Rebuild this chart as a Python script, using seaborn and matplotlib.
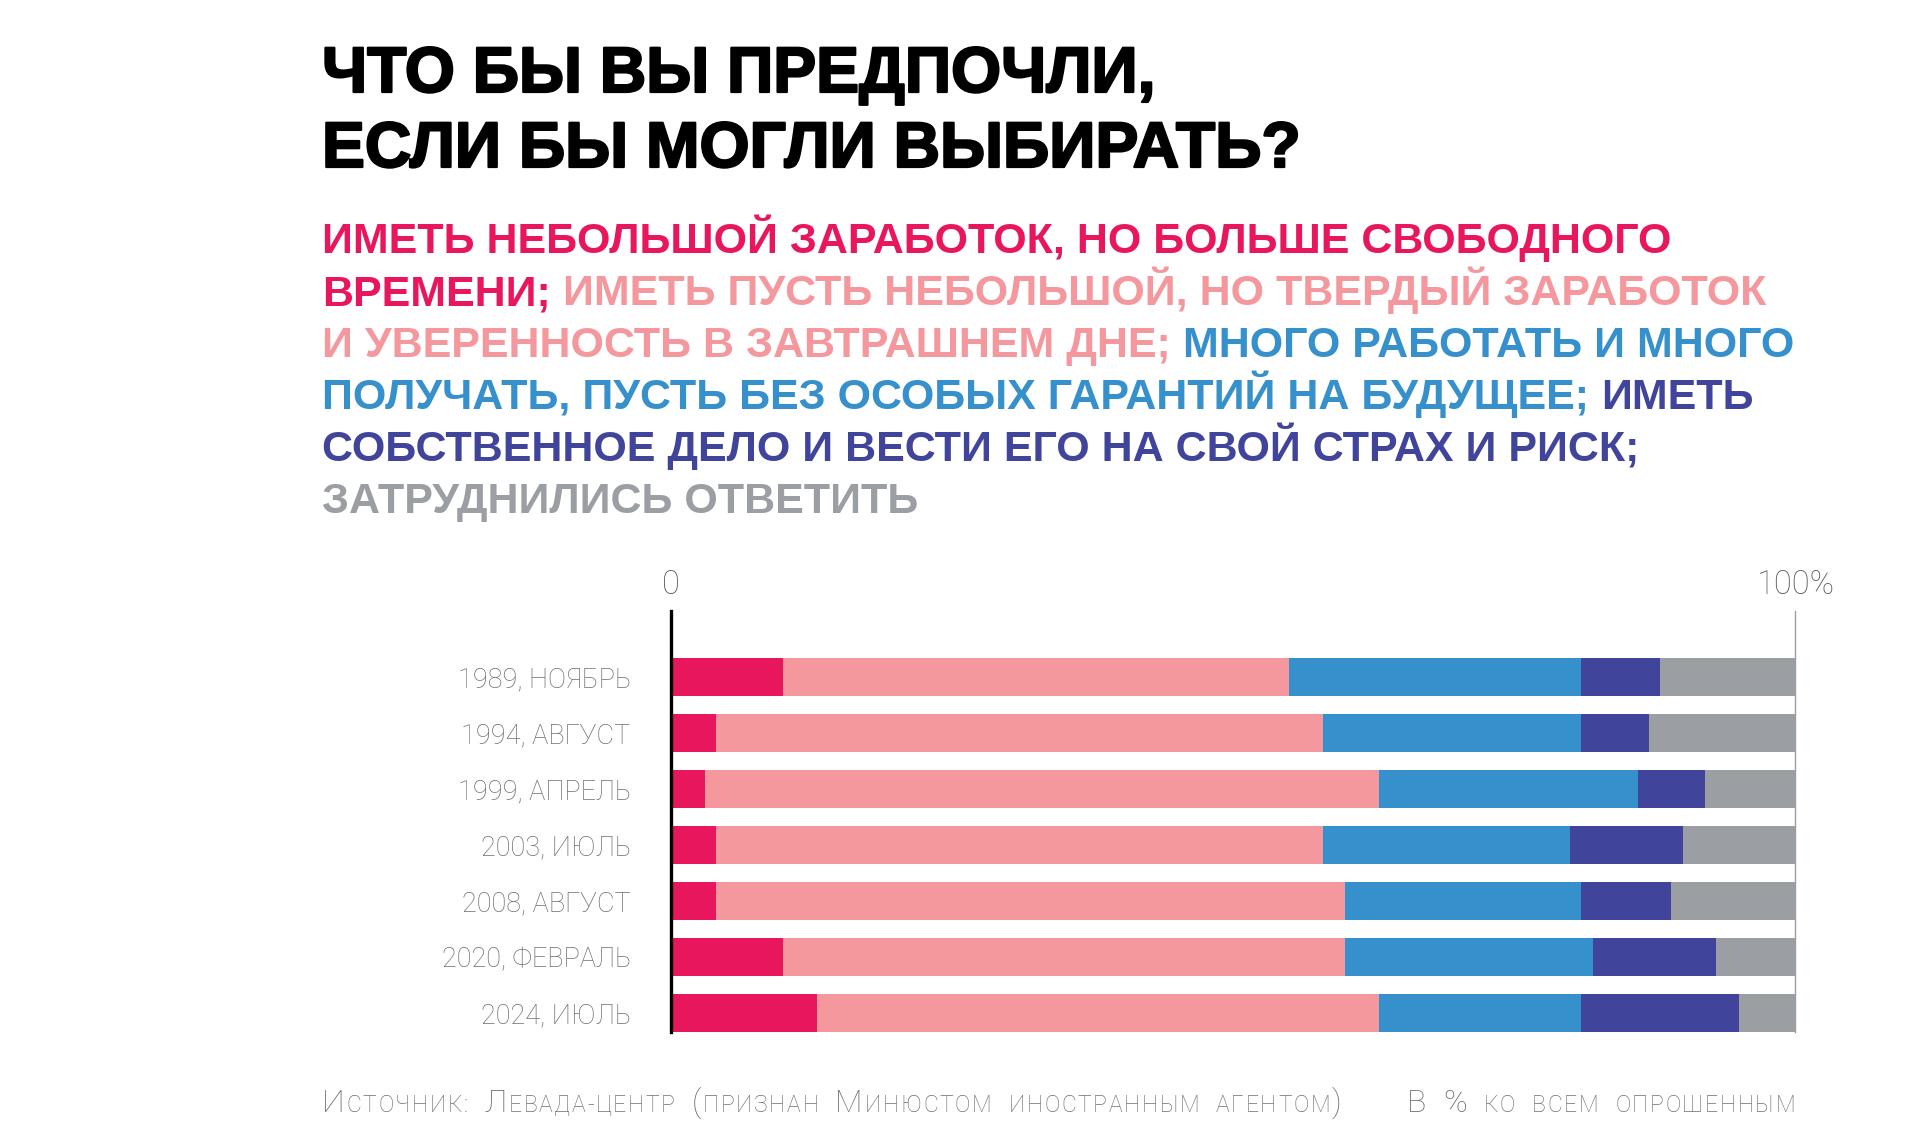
import matplotlib
matplotlib.use("Agg")
import matplotlib.pyplot as plt
import matplotlib.patheffects as pe
import seaborn as sns
import pandas as pd
import numpy as np
from matplotlib import font_manager as fm

# ---------------- data ----------------
periods = ["1989, НОЯБРЬ", "1994, АВГУСТ", "1999, АПРЕЛЬ", "2003, ИЮЛЬ",
           "2008, АВГУСТ", "2020, ФЕВРАЛЬ", "2024, ИЮЛЬ"]
categories = [
    "Иметь небольшой заработок, но больше свободного времени",
    "Иметь пусть небольшой, но твердый заработок и уверенность в завтрашнем дне",
    "Много работать и много получать, пусть без особых гарантий на будущее",
    "Иметь собственное дело и вести его на свой страх и риск",
    "Затруднились ответить",
]
free_time = [10, 4, 3, 4, 4, 10, 13]
stable = [45, 54, 60, 54, 56, 50, 50]
work_hard = [26, 23, 23, 22, 21, 22, 18]
own_business = [7, 6, 6, 10, 8, 11, 14]
hard_to_say = [12, 13, 8, 10, 11, 7, 5]

colors = ["#E8175D", "#F4989E", "#3590CB", "#41449B", "#9B9EA2"]

title_lines = ["ЧТО БЫ ВЫ ПРЕДПОЧЛИ,", "ЕСЛИ БЫ МОГЛИ ВЫБИРАТЬ?"]
# subtitle runs: (text, category index), one list per line
subtitle_lines = [
    [("ИМЕТЬ НЕБОЛЬШОЙ ЗАРАБОТОК, НО БОЛЬШЕ СВОБОДНОГО", 0)],
    [("ВРЕМЕНИ;", 0), ("ИМЕТЬ ПУСТЬ НЕБОЛЬШОЙ, НО ТВЕРДЫЙ ЗАРАБОТОК", 1)],
    [("И УВЕРЕННОСТЬ В ЗАВТРАШНЕМ ДНЕ;", 1), ("МНОГО РАБОТАТЬ И МНОГО", 2)],
    [("ПОЛУЧАТЬ, ПУСТЬ БЕЗ ОСОБЫХ ГАРАНТИЙ НА БУДУЩЕЕ;", 2), ("ИМЕТЬ", 3)],
    [("СОБСТВЕННОЕ ДЕЛО И ВЕСТИ ЕГО НА СВОЙ СТРАХ И РИСК;", 3)],
    [("ЗАТРУДНИЛИСЬ ОТВЕТИТЬ", 4)],
]
source_text = "Источник: Левада-центр (признан Минюстом иностранным агентом)"
unit_text = "В % ко всем опрошенным"
x_ticks = ["0", "100%"]

# ---------------- setup ----------------
sns.set_theme(style="white")
names = {f.name for f in fm.fontManager.ttflist}
light_family = "Roboto" if "Roboto" in names else "DejaVu Sans"
plt.rcParams["font.family"] = ["Liberation Sans", "DejaVu Sans"]

W, H = 1920, 1148
fig = plt.figure(figsize=(W / 100, H / 100), dpi=100)
fig.patch.set_facecolor("white")

def fx(px):
    return px / W

def fy(py):
    return 1 - py / H

# axes position in pixels
x0_px, x1_px = 671, 1795
top_px, bot_px = 611, 1032.3
ax = fig.add_axes([fx(x0_px), fy(bot_px), fx(x1_px - x0_px), (bot_px - top_px) / H])

df = pd.DataFrame({
    "period": periods,
    "c0": free_time, "c1": stable, "c2": work_hard, "c3": own_business, "c4": hard_to_say,
})
cols = ["c0", "c1", "c2", "c3", "c4"]
cum = df[cols].cumsum(axis=1)
for i in range(4, -1, -1):
    sns.barplot(x=cum[cols[i]], y=df["period"], orient="h", color=colors[i],
                saturation=1, width=0.68, ax=ax, linewidth=0)

bar_h = 0.68
ax.set_xlim(0, 100)
ax.set_ylim(6 + bar_h / 2, -(676.9 - 611) / 56.07)
ax.set_xlabel("")
ax.set_ylabel("")
ax.set_xticks([])
ax.tick_params(axis="y", length=0, pad=29)
for lab in ax.get_yticklabels():
    lab.set_fontfamily(light_family)
    lab.set_fontweight("light")
    lab.set_fontsize(19.5)
    lab.set_color("#6d6e71")
for s in ["top", "bottom"]:
    ax.spines[s].set_visible(False)
ax.spines["left"].set_color("black")
ax.spines["left"].set_linewidth(2.4)
ax.spines["right"].set_color("#9B9EA2")
ax.spines["right"].set_linewidth(1.0)
ax.set_facecolor("white")

# top scale labels
for val, lab in zip([0, 100], x_ticks):
    px = x0_px + (x1_px - x0_px) * val / 100
    fig.text(fx(px), fy(594), lab, ha="center", va="baseline", fontsize=23.5,
             family=light_family, fontweight="light", color="#58595b")

# title
for i, line in enumerate(title_lines):
    fig.text(fx(322), fy(92 + 75 * i), line, ha="left", va="baseline",
             fontsize=46.3, fontweight="bold", color="black",
             family=["Liberation Sans", "DejaVu Sans"],
             path_effects=[pe.withStroke(linewidth=1.6, foreground="black")])

renderer = fig.canvas.get_renderer()

def text_width(s, **kw):
    t = fig.text(0, 0, s, **kw)
    w = t.get_window_extent(renderer).width
    t.remove()
    return w

sub_kw = dict(fontsize=31, fontweight="bold", family=["Liberation Sans", "DejaVu Sans"])
space_w = text_width("Н Н", **sub_kw) - text_width("НН", **sub_kw)
for li, runs in enumerate(subtitle_lines):
    x = 322
    yb = 253.5 + 51.9 * li
    for s, ci in runs:
        t = fig.text(fx(x), fy(yb), s, ha="left", va="baseline", color=colors[ci], **sub_kw)
        x += t.get_window_extent(renderer).width + space_w

# footer in small-caps style, drawn character by character with tracking
foot_big = dict(fontsize=23, family=[light_family, "DejaVu Sans"], fontweight="light", color="#6d6e71")
foot_small = dict(fontsize=16.5, family=[light_family, "DejaVu Sans"], fontweight="light", color="#6d6e71")
fspace = text_width("Н Н", **foot_big) - text_width("НН", **foot_big)
tracking = 1.7
word_extra = 7.5

def char_runs(text):
    runs = []
    for ch in text:
        if ch == " ":
            runs.append((" ", None))
        elif ch.isupper() or ch.isdigit() or ch in "%()":
            runs.append((ch, True))
        else:
            runs.append((ch.upper(), False))
    return runs

def draw_runs(runs, x, yb, measure_only=False):
    total = 0
    for s, big in runs:
        if big is None:
            total += fspace + word_extra
            continue
        kw = foot_big if big else foot_small
        if measure_only:
            total += text_width(s, **kw) + tracking
        else:
            t = fig.text(fx(x + total), fy(yb), s, ha="left", va="baseline", **kw)
            total += t.get_window_extent(renderer).width + tracking
    return total - tracking

draw_runs(char_runs(source_text), 322, 1112)
ur = char_runs(unit_text)
uw = draw_runs(ur, 0, 0, measure_only=True)
draw_runs(ur, x1_px - uw, 1112)

fig.savefig("out.png", dpi=100, facecolor="white")
